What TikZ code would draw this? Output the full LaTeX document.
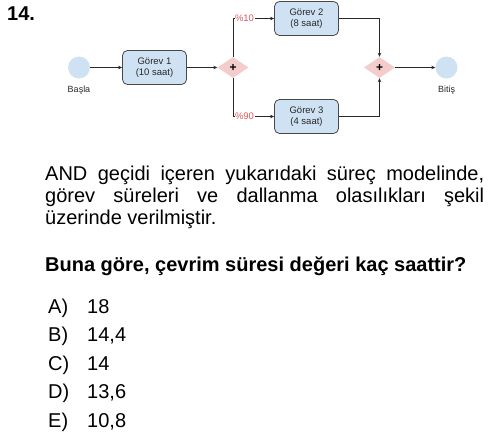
\documentclass[tikz,border=0pt]{standalone}
\usepackage{fontspec}
\setmainfont{Liberation Sans}
\usetikzlibrary{arrows.meta,shapes.geometric}

\definecolor{taskblue}{RGB}{207,226,243}
\definecolor{gatepink}{RGB}{244,204,204}
\definecolor{pctred}{RGB}{222,90,90}
\definecolor{linegray}{RGB}{40,40,40}

\tikzset{
  task/.style={draw=linegray!85, fill=taskblue, rounded corners=5pt, line width=0.8pt,
    minimum width=64pt, minimum height=34pt, align=center, inner sep=0pt,
    font=\fontsize{9.5}{11.5}\selectfont, text=linegray},
  event/.style={circle, fill=taskblue, minimum size=22pt, inner sep=0pt},
  gate/.style={diamond, fill=gatepink, aspect=1.5, minimum width=31pt, minimum height=21pt,
    inner sep=0pt, text=black, font=\bfseries\fontsize{12}{12}\selectfont},
  flow/.style={draw=linegray, line width=0.6pt, -{Stealth[length=4pt,width=3.5pt]}},
  evlabel/.style={font=\fontsize{9}{10}\selectfont, text=linegray},
  pct/.style={font=\fontsize{9.5}{9.5}\selectfont, text=pctred, fill=white, inner sep=0.5pt},
  body/.style={font=\fontsize{20}{22}\selectfont, inner sep=0pt}
}

\begin{document}
\begin{tikzpicture}[x=1pt, y=-1pt]

\useasboundingbox (0,0) rectangle (500,436);

\def\ym{67.5}; % main line
\def\yt{18.5}; % upper branch
\def\yl{116.5}; % lower branch

\def\xs{79}; % start
\def\xa{154.5}; % task 1
\def\xg{233}; % split gate
\def\xb{306.5}; % tasks 2 and 3
\def\xj{379.5}; % join gate
\def\xe{446.5}; % end

\node[anchor=base west, font=\bfseries\fontsize{20}{20}\selectfont, inner sep=0pt] (qno) at (7,21) {14.};

% process model
\node[event] (basla) at (\xs, \ym) {};
\node[evlabel] (baslaLbl) at (\xs, 90) {Başla};
\node[task] (gorev1) at (\xa, \ym) {Görev 1\\(10 saat)};
\node[gate] (split) at (\xg, \ym) {+};
\node[task] (gorev2) at (\xb, \yt) {Görev 2\\(8 saat)};
\node[task] (gorev3) at (\xb, \yl) {Görev 3\\(4 saat)};
\node[gate] (join) at (\xj, \ym) {+};
\node[event] (bitis) at (\xe, \ym) {};
\node[evlabel] (bitisLbl) at (\xe, 90) {Bitiş};

\draw[flow] (basla) -- (gorev1);
\draw[flow] (gorev1) -- (split);
\draw[flow] (split.north) |- (gorev2.west) node[pct, pos=0.64] (p10) {\%10};
\draw[flow] (split.south) |- (gorev3.west) node[pct, pos=0.64] (p90) {\%90};
\draw[flow] (gorev2.east) -| (join.north);
\draw[flow] (gorev3.east) -| (join.south);
\draw[flow] (join) -- (bitis);

% question text
\node[body, anchor=north west, text width=439pt, align=justify] (stem) at (45,165.5)
  {AND geçidi içeren yukarıdaki süreç modelinde,\linebreak
   görev süreleri ve dallanma olasılıkları şekil\linebreak
   üzerinde verilmiştir.};
\node[body, anchor=base west, font=\bfseries\fontsize{20}{22}\selectfont] (ask) at (45,271.5)
  {Buna göre, çevrim süresi değeri kaç saattir?};

% options
\node[body, anchor=base west] (optA) at (48,313) {A)};
\node[body, anchor=base west] (valA) at (87,313) {18};
\node[body, anchor=base west] (optB) at (48,341.5) {B)};
\node[body, anchor=base west] (valB) at (87,341.5) {14,4};
\node[body, anchor=base west] (optC) at (48,370) {C)};
\node[body, anchor=base west] (valC) at (87,370) {14};
\node[body, anchor=base west] (optD) at (48,398.5) {D)};
\node[body, anchor=base west] (valD) at (87,398.5) {13,6};
\node[body, anchor=base west] (optE) at (48,427) {E)};
\node[body, anchor=base west] (valE) at (87,427) {10,8};

\end{tikzpicture}
\end{document}
